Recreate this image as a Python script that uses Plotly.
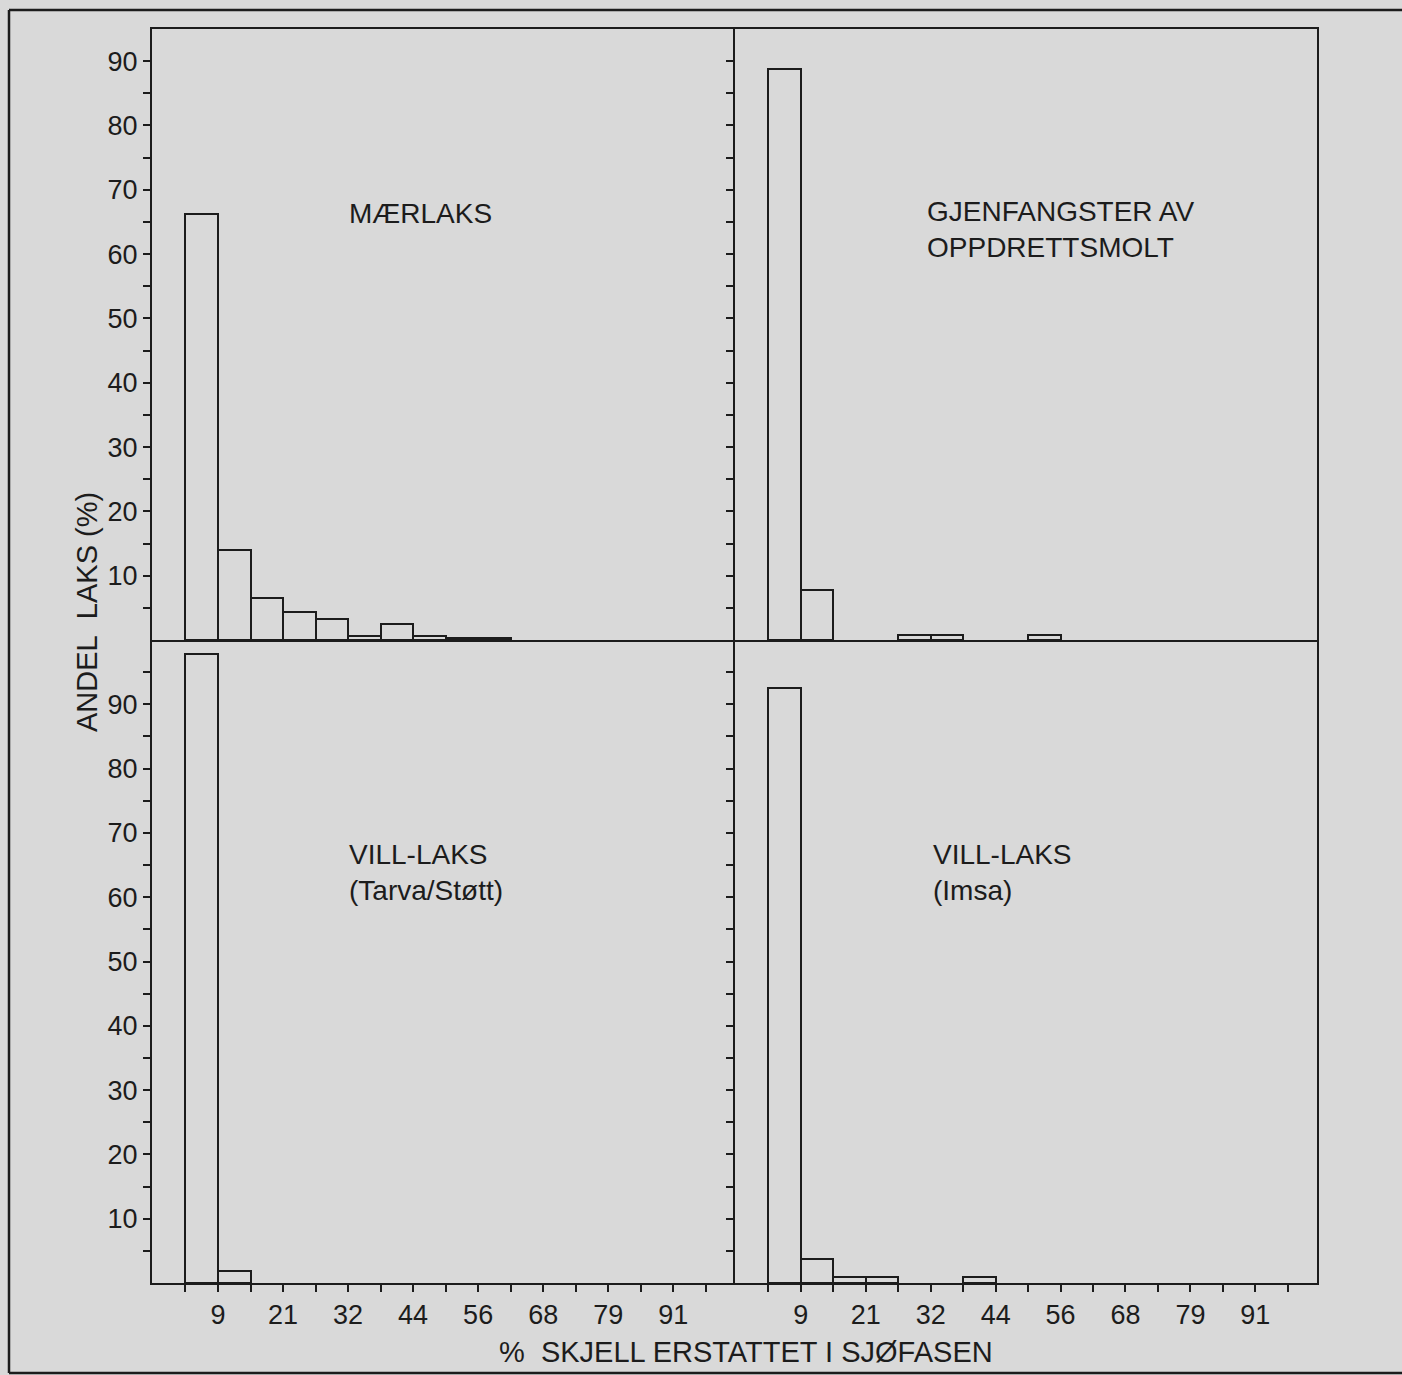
import plotly.graph_objects as go

# ---- data ----
bin_index = list(range(16))
x_tick_positions = list(range(17))
x_tick_labels = ["", "9", "", "21", "", "32", "", "44", "", "56", "", "68", "", "79", "", "91", ""]

maerlaks = [66.2, 14.0, 6.5, 4.3, 3.2, 0.6, 2.5, 0.6, 0.3, 0.3, 0, 0, 0, 0, 0, 0]
gjenfangster = [88.8, 7.8, 0, 0, 0.8, 0.8, 0, 0, 0.8, 0, 0, 0, 0, 0, 0, 0]
vill_tarva = [97.8, 1.9, 0, 0, 0, 0, 0, 0, 0, 0, 0, 0, 0, 0, 0, 0]
vill_imsa = [92.6, 3.7, 0.9, 0.9, 0, 0, 0.9, 0, 0, 0, 0, 0, 0, 0, 0, 0]

panel_titles = ["MÆRLAKS", "GJENFANGSTER AV<br>OPPDRETTSMOLT",
                "VILL-LAKS<br>(Tarva/Støtt)", "VILL-LAKS<br>(Imsa)"]

y_tick_top = list(range(5, 95, 5))
y_tick_bottom = list(range(5, 100, 5))

W, H = 1402, 1375
BG = "#d9d9d9"
INK = "#1c1c1c"
FONT = "Liberation Sans, Arial, sans-serif"


def px_x(p):
    return p / W


def px_y(p):
    return 1 - p / H


fig = go.Figure()

series = [(maerlaks, "x", "y"), (gjenfangster, "x2", "y2"),
          (vill_tarva, "x3", "y3"), (vill_imsa, "x4", "y4")]
for vals, xa, ya in series:
    xs = [i + 0.5 for i, v in zip(bin_index, vals) if v > 0]
    ys = [v for v in vals if v > 0]
    fig.add_trace(go.Bar(
        x=xs, y=ys, width=1.0, xaxis=xa, yaxis=ya,
        marker=dict(color="rgba(0,0,0,0)", line=dict(color=INK, width=2)),
        showlegend=False, hoverinfo="x+y"))

left_dom = [px_x(152), px_x(735)]
right_dom = [px_x(735), px_x(1317)]
top_dom = [px_y(640), px_y(29)]
bot_dom = [px_y(1283), px_y(640)]
xrange_ = [-1.03, 16.9]

common_axis = dict(showline=True, linecolor=INK, linewidth=2,
                   showgrid=False, zeroline=False)
tickfont = dict(family=FONT, size=27, color=INK)


def xaxis(dom, anchor, bottom):
    d = dict(common_axis, domain=dom, anchor=anchor, range=xrange_, fixedrange=True)
    if bottom:
        # top edge of the bottom panels is drawn by the top panels' axis line
        d.update(tickmode="array", tickvals=x_tick_positions, ticktext=x_tick_labels,
                 ticks="outside", ticklen=7, tickwidth=2, tickcolor=INK,
                 tickfont=tickfont, showticklabels=True, mirror=False)
    else:
        d.update(ticks="", showticklabels=False, mirror=True)
    return d


def yaxis(dom, anchor, top, left_col):
    tv = y_tick_top if top else y_tick_bottom
    d = dict(common_axis, domain=dom, anchor=anchor,
             range=[0, 95] if top else [0, 100],
             tickmode="array", tickvals=tv,
             ticktext=[str(v) if v % 10 == 0 else "" for v in tv],
             ticks="outside", ticklen=7, tickwidth=2, tickcolor=INK,
             tickfont=tickfont, showticklabels=left_col, fixedrange=True,
             mirror=not left_col)
    return d


fig.update_layout(
    width=W, height=H,
    margin=dict(l=0, r=0, t=0, b=0),
    paper_bgcolor=BG, plot_bgcolor=BG,
    font=dict(family=FONT, color=INK),
    bargap=0,
    xaxis=xaxis(left_dom, "y", False),
    yaxis=yaxis(top_dom, "x", True, True),
    xaxis2=xaxis(right_dom, "y2", False),
    yaxis2=yaxis(top_dom, "x2", True, False),
    xaxis3=xaxis(left_dom, "y3", True),
    yaxis3=yaxis(bot_dom, "x3", False, True),
    xaxis4=xaxis(right_dom, "y4", True),
    yaxis4=yaxis(bot_dom, "x4", False, False),
)

ann_font = dict(family=FONT, size=28, color=INK)
title_pos = [(347, 214), (925, 230), (347, 872), (931, 872)]
for text, (ax, ay) in zip(panel_titles, title_pos):
    fig.add_annotation(text=text, x=px_x(ax), y=px_y(ay), xref="paper", yref="paper",
                       xanchor="left", yanchor="middle", align="left",
                       showarrow=False, font=ann_font)

fig.add_annotation(text="ANDEL\u00a0\u00a0LAKS (%)", x=px_x(87), y=px_y(612),
                   xref="paper", yref="paper", textangle=-90, showarrow=False,
                   xanchor="center", yanchor="middle", font=dict(family=FONT, size=29, color=INK))
fig.add_annotation(text="%\u00a0\u00a0SKJELL ERSTATTET I SJØFASEN", x=px_x(746), y=px_y(1352),
                   xref="paper", yref="paper", showarrow=False,
                   xanchor="center", yanchor="middle", font=dict(family=FONT, size=29, color=INK))

# outer frame: top, left and bottom edges (right edge runs off the page)
border = dict(color=INK, width=2.5)
fig.add_shape(type="line", xref="paper", yref="paper",
              x0=px_x(9), x1=1.0, y0=px_y(10), y1=px_y(10), line=border)
fig.add_shape(type="line", xref="paper", yref="paper",
              x0=px_x(9), x1=1.0, y0=px_y(1373), y1=px_y(1373), line=border)
fig.add_shape(type="line", xref="paper", yref="paper",
              x0=px_x(9), x1=px_x(9), y0=px_y(1373), y1=px_y(10), line=border)

fig.write_html("out.html")
